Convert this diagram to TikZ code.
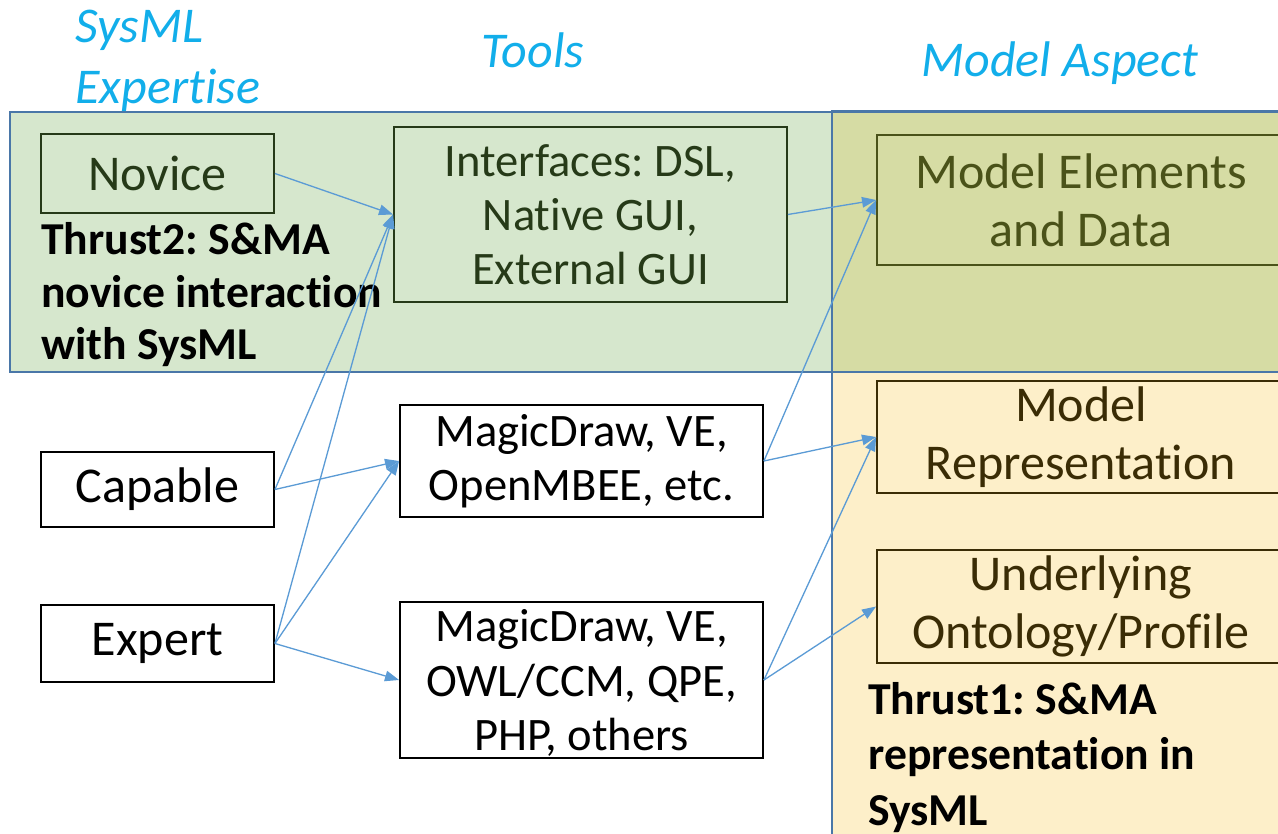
\documentclass[tikz,border=0pt]{standalone}
\usepackage{fontspec}
\setmainfont[Ligatures={NoCommon,NoRequired,NoContextual,NoRare},Contextuals=NoAlternate]{Carlito}
\usetikzlibrary{arrows.meta}
\frenchspacing

\definecolor{bandline}{HTML}{4A77A8}
\definecolor{greenfill}{HTML}{D6E7CD}
\definecolor{olivefill}{HTML}{D6DCA4}
\definecolor{yellowfill}{HTML}{FDEFC9}
\definecolor{headcyan}{HTML}{12AEEA}
\definecolor{arrowblue}{HTML}{5B9BD5}
\definecolor{novgreen}{HTML}{263A18}
\definecolor{oliveink}{HTML}{4A5219}
\definecolor{brownink}{HTML}{3A2C05}

\tikzset{
  box/.style={draw, line width=1.1pt, inner sep=0pt, align=center},
  bigtext/.style={font=\fontsize{28.5}{33}\selectfont},
  tooltext/.style={font=\fontsize{26.5}{30.8}\selectfont},
  heading/.style={text=headcyan, font=\fontsize{28.5}{35}\selectfont\itshape, inner sep=0pt},
  thrust/.style={font=\fontsize{26}{30}\selectfont\bfseries, align=left, inner sep=0pt, anchor=north west},
  conn/.style={draw=arrowblue, line width=0.75pt, -{Triangle[length=8pt,width=6pt]}},
}

\begin{document}
\begin{tikzpicture}[x=0.02cm, y=-0.02cm]
\useasboundingbox (0,0) rectangle (1278,834);

% coloured regions: novice band across the top, aspect column on the right
\begin{scope}
  \clip (0,0) rectangle (1278,834);
  \fill[greenfill] (10,112) rectangle (1300,372);
  \fill[yellowfill] (832,372) rectangle (1300,850);
  \fill[olivefill] (832,112) rectangle (1300,372);
  \draw[bandline, line width=1.3pt] (1300,112) -- (10,112) -- (10,372) -- (1300,372);
  \draw[bandline, line width=1.3pt] (832,850) -- (832,111) -- (1300,111);
\end{scope}

% column headings
\node[heading, align=left, anchor=west] (hexp) at (75,61) {SysML\\Expertise};
\node[heading] (htools) at (533,50) {Tools};
\node[heading] (haspect) at (1060,63) {Model Aspect};

% expertise levels
\node[box, bigtext, draw=novgreen, text=novgreen, minimum width=4.66cm, minimum height=1.58cm] (nov) at (157.5,173.5) {Novice};
\node[box, bigtext, fill=white, minimum width=4.66cm, minimum height=1.5cm] (cap) at (157.5,489.5) {Capable};
\node[box, bigtext, fill=white, minimum width=4.66cm, minimum height=1.54cm] (exp) at (157.5,643.5) {Expert};

% tools
\node[box, tooltext, draw=novgreen, text=novgreen, minimum width=7.86cm, minimum height=3.5cm] (intf) at (590.5,214.5) {Interfaces: DSL,\\Native GUI,\\External GUI};
\node[box, tooltext, fill=white, minimum width=7.26cm, minimum height=2.24cm] (md1) at (581.5,461) {MagicDraw, VE,\\OpenMBEE, etc.};
\node[box, tooltext, fill=white, minimum width=7.26cm, minimum height=3.12cm, text depth=-0.12cm] (md2) at (581.5,680) {MagicDraw, VE,\\OWL/CCM, QPE,\\PHP, others};

% model aspects
\node[box, bigtext, draw=oliveink, text=oliveink, minimum width=8.16cm, minimum height=2.6cm] (mel) at (1081,200) {Model Elements\\and Data};
\node[box, bigtext, draw=brownink, text=brownink, minimum width=8.16cm, minimum height=2.24cm] (mrep) at (1081,437) {Model\\Representation};
\node[box, bigtext, draw=brownink, text=brownink, minimum width=8.16cm, minimum height=2.26cm] (und) at (1081,606.5) {Underlying\\Ontology/Profile};

% research thrusts
\node[thrust] (t2) at (41,222) {Thrust2: S\&MA\\novice interaction\\with SysML};
\node[thrust, font=\fontsize{26}{31.5}\selectfont\bfseries] (t1) at (868,682) {Thrust1: S\&MA\\representation in\\SysML};

% connectors
\draw[conn] (nov.east) -- (intf.west);
\draw[conn] (cap.east) -- (intf.west);
\draw[conn] (exp.east) -- (intf.west);
\draw[conn] (cap.east) -- (md1.west);
\draw[conn] (exp.east) -- (md1.west);
\draw[conn] (exp.east) -- (md2.west);
\draw[conn] (intf.east) -- (mel.west);
\draw[conn] (md1.east) -- (mel.west);
\draw[conn] (md1.east) -- (mrep.west);
\draw[conn] (md2.east) -- (mrep.west);
\draw[conn] (md2.east) -- (und.west);
\end{tikzpicture}
\end{document}
